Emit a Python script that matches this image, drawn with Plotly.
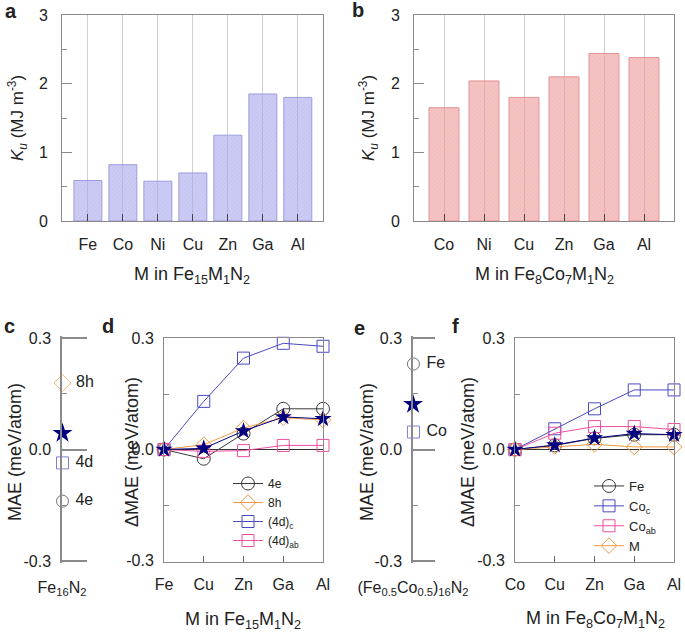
import plotly.graph_objects as go

# ---------------- data ----------------
a_cats = ["Fe", "Co", "Ni", "Cu", "Zn", "Ga", "Al"]
a_ku = [0.59, 0.82, 0.58, 0.70, 1.25, 1.85, 1.80]

b_cats = ["Co", "Ni", "Cu", "Zn", "Ga", "Al"]
b_ku = [1.65, 2.04, 1.80, 2.10, 2.44, 2.38]

c_labels = ["8h", "4d", "4e"]
c_mae = [0.179, -0.036, -0.139]
c_total = 0.044

d_cats = ["Fe", "Cu", "Zn", "Ga", "Al"]
d_4e = [0.0, -0.025, 0.043, 0.110, 0.110]
d_8h = [0.0, 0.013, 0.058, 0.086, 0.080]
d_4dc = [0.0, 0.130, 0.247, 0.287, 0.279]
d_4dab = [0.0, -0.005, -0.003, 0.011, 0.011]
d_total = [0.0, 0.003, 0.050, 0.088, 0.083]

e_labels = ["Fe", "Co"]
e_mae = [0.230, 0.047]
e_total = 0.122

f_cats = ["Co", "Cu", "Zn", "Ga", "Al"]
f_fe = [0.0, 0.011, 0.030, 0.040, 0.040]
f_coc = [0.0, 0.056, 0.110, 0.161, 0.161]
f_coab = [0.0, 0.044, 0.062, 0.062, 0.054]
f_m = [0.0, 0.008, 0.014, 0.007, 0.007]
f_total = [0.0, 0.012, 0.031, 0.043, 0.040]

# ---------------- styling ----------------
W, H = 685, 632
FONT = "Liberation Sans, Arial, sans-serif"
TXT = "#222222"
AX = "#8a8a8a"
BLACK = "#3a3a3a"
ORANGE = "#f29a45"
BLUE = "#4a4ac4"
PINK = "#f0509e"
NAVY = "#000080"
NBSP = "\u00a0"


def px(x):
    return x / W


def py(y):
    return 1 - y / H


fig = go.Figure()

# ---- panel a bars ----
fig.add_trace(go.Bar(
    x=a_cats, y=a_ku, xaxis="x", yaxis="y", width=0.8, showlegend=False,
    marker=dict(color="rgba(168,168,236,0.6)",
                line=dict(color="rgba(150,150,220,0.9)", width=1),
                pattern=dict(shape="/", fillmode="overlay", size=3, solidity=0.25,
                             fgcolor="rgba(120,120,210,0.3)")),
))
# ---- panel b bars ----
fig.add_trace(go.Bar(
    x=b_cats, y=b_ku, xaxis="x2", yaxis="y2", width=0.75, showlegend=False,
    marker=dict(color="rgba(238,155,155,0.6)",
                line=dict(color="rgba(225,140,140,0.9)", width=1),
                pattern=dict(shape="/", fillmode="overlay", size=3, solidity=0.25,
                             fgcolor="rgba(210,110,110,0.3)")),
))

# ---- panel c ----
fig.add_trace(go.Scatter(
    x=[0.02] * len(c_labels), y=c_mae, xaxis="x3", yaxis="y3", mode="markers+text",
    text=[NBSP + t for t in c_labels], textposition="middle right", cliponaxis=False,
    showlegend=False, textfont=dict(size=16, color=TXT),
    marker=dict(symbol=["diamond-open", "square-open", "circle-open"],
                color=[ORANGE, BLUE, BLACK], size=[13, 12, 12], line=dict(width=1)),
))
fig.add_trace(go.Scatter(
    x=[0.02], y=[c_total], xaxis="x3", yaxis="y3", mode="markers", cliponaxis=False,
    showlegend=False, marker=dict(symbol="star", color=NAVY, size=15),
))

# ---- panel d ----
d_series = [
    ("4e", d_4e, "circle-open", BLACK, 13),
    ("8h", d_8h, "diamond-open", ORANGE, 12),
    ("(4d)<sub>c</sub>", d_4dc, "square-open", BLUE, 12),
    ("(4d)<sub>ab</sub>", d_4dab, "square-open", PINK, 12),
]
for name, vals, sym, col, sz in d_series:
    fig.add_trace(go.Scatter(
        x=d_cats, y=vals, name=name, xaxis="x4", yaxis="y4", mode="lines+markers",
        cliponaxis=False, legend="legend",
        line=dict(color=col, width=1),
        marker=dict(symbol=sym, color=col, size=sz, line=dict(width=1)),
    ))
fig.add_trace(go.Scatter(
    x=d_cats, y=d_total, xaxis="x4", yaxis="y4", mode="lines+markers", cliponaxis=False,
    showlegend=False, line=dict(color=NAVY, width=1),
    marker=dict(symbol="star", color=NAVY, size=13),
))

# ---- panel e ----
fig.add_trace(go.Scatter(
    x=[0.02] * len(e_labels), y=e_mae, xaxis="x5", yaxis="y5", mode="markers+text",
    text=[NBSP + t for t in e_labels], textposition="middle right", cliponaxis=False,
    showlegend=False, textfont=dict(size=16, color=TXT),
    marker=dict(symbol=["circle-open", "square-open"], color=[BLACK, BLUE],
                size=[12, 12], line=dict(width=1)),
))
fig.add_trace(go.Scatter(
    x=[0.0], y=[e_total], xaxis="x5", yaxis="y5", mode="markers", cliponaxis=False,
    showlegend=False, marker=dict(symbol="star", color=NAVY, size=15),
))

# ---- panel f ----
f_series = [
    ("Fe", f_fe, "circle-open", BLACK, 13),
    ("Co<sub>c</sub>", f_coc, "square-open", BLUE, 12),
    ("Co<sub>ab</sub>", f_coab, "square-open", PINK, 12),
    ("M", f_m, "diamond-open", ORANGE, 12),
]
for name, vals, sym, col, sz in f_series:
    fig.add_trace(go.Scatter(
        x=f_cats, y=vals, name=name, xaxis="x6", yaxis="y6", mode="lines+markers",
        cliponaxis=False, legend="legend2",
        line=dict(color=col, width=1),
        marker=dict(symbol=sym, color=col, size=sz, line=dict(width=1)),
    ))
fig.add_trace(go.Scatter(
    x=f_cats, y=f_total, xaxis="x6", yaxis="y6", mode="lines+markers", cliponaxis=False,
    showlegend=False, line=dict(color=NAVY, width=1),
    marker=dict(symbol="star", color=NAVY, size=13),
))

# ---------------- axes ----------------
tickfont = dict(family=FONT, size=16, color=TXT)
top_dom = [py(221), py(15)]
bot_dom = [py(561.5), py(337.5)]
mae_range = [-0.3027, 0.3027]
# single-point panels: a slightly wider range so the +-0.3 grid lines are kept
single_range = [-0.305, 0.305]
single_dom = [py(562.9), py(336.1)]
mae_ticks = dict(tickvals=[-0.3, 0.0, 0.3], ticktext=["-0.3", "0.0", "0.3"])
minor_mae = dict(tickvals=[-0.15, 0.15], ticks="inside", ticklen=5, tickcolor=AX)

bar_x = dict(showgrid=True, gridcolor="#cfcfcf", gridwidth=1, showline=True, mirror=True,
             linecolor=AX, linewidth=1, ticks="inside", ticklen=7, tickcolor="#444",
             tickfont=tickfont, ticklabelstandoff=9, zeroline=False, automargin=False)
bar_y = dict(range=[0, 3], tickvals=[0, 1, 2, 3], showgrid=False, showline=True, mirror=True,
             linecolor=AX, linewidth=1, ticks="inside", ticklen=10, tickcolor=AX,
             minor=dict(dtick=0.5, ticks="inside", ticklen=5, tickcolor=AX, showgrid=False),
             tickfont=tickfont, ticklabelstandoff=10, zeroline=False, automargin=False)

line_x = dict(showgrid=False, showline=True, mirror=True, linecolor=AX, linewidth=1,
              ticks="inside", ticklen=6, tickcolor="#666", tickfont=tickfont,
              ticklabelstandoff=8, zeroline=False, automargin=False)
line_y = dict(range=mae_range, **mae_ticks, showgrid=False, showline=True, mirror=True,
              linecolor=AX, linewidth=1, ticks="", minor=minor_mae, tickfont=tickfont,
              ticklabelstandoff=6, zeroline=True, zerolinecolor="#333", zerolinewidth=1,
              automargin=False)

single_y = dict(range=single_range, **mae_ticks, showgrid=True, gridcolor=AX, gridwidth=1.5,
                showline=True, linecolor=AX, linewidth=1.5, ticks="", minor=minor_mae,
                tickfont=tickfont, ticklabelstandoff=6, zeroline=False, automargin=False)
single_x = dict(range=[0, 1], showgrid=False, showline=False, zeroline=False, ticks="",
                tickfont=dict(family=FONT, size=16, color=TXT), ticklabelstandoff=13,
                automargin=False)

fig.update_layout(
    template="none",
    xaxis=dict(domain=[px(62), px(323)], anchor="y", range=[-0.74, 6.72], **bar_x),
    yaxis=dict(domain=top_dom, anchor="x", **bar_y),
    xaxis2=dict(domain=[px(414), px(674)], anchor="y2", range=[-0.75, 5.75], **bar_x),
    yaxis2=dict(domain=top_dom, anchor="x2", **bar_y),
    xaxis3=dict(domain=[px(62), px(87)], anchor="y3", tickvals=[0.0],
                ticktext=["Fe<sub>16</sub>N<sub>2</sub>"], **single_x),
    yaxis3=dict(domain=single_dom, anchor="x3", **single_y),
    xaxis4=dict(domain=[px(164), px(323)], anchor="y4", range=[0, 4.0], **line_x),
    yaxis4=dict(domain=bot_dom, anchor="x4", **line_y),
    xaxis5=dict(domain=[px(413), px(435)], anchor="y5", tickvals=[0.0],
                ticktext=["(Fe<sub>0.5</sub>Co<sub>0.5</sub>)<sub>16</sub>N<sub>2</sub>"],
                **single_x),
    yaxis5=dict(domain=single_dom, anchor="x5", **single_y),
    xaxis6=dict(domain=[px(515), px(674)], anchor="y6", range=[0, 4.0], **line_x),
    yaxis6=dict(domain=bot_dom, anchor="x6", **line_y),
)

fig.update_layout(
    legend=dict(x=px(228), y=py(469), xanchor="left", yanchor="top",
                bgcolor="rgba(0,0,0,0)", borderwidth=0, itemwidth=30,
                font=dict(family=FONT, size=12, color=TXT), tracegroupgap=0),
    legend2=dict(x=px(589), y=py(471), xanchor="left", yanchor="top",
                 bgcolor="rgba(0,0,0,0)", borderwidth=0, itemwidth=30,
                 font=dict(family=FONT, size=13, color=TXT), tracegroupgap=0),
)

# ---------------- titles & panel letters ----------------
annots = []


def ann(x, y, text, size=18, angle=0, bold=False):
    annots.append(dict(x=px(x), y=py(y), xref="paper", yref="paper", showarrow=False,
                       text=("<b>%s</b>" % text) if bold else text, textangle=angle,
                       xanchor="center", yanchor="middle",
                       font=dict(family=FONT, size=size, color=TXT)))


ann(17, 118, "<i>K<sub>u</sub></i> (MJ m<sup>-3</sup>)", 17, -90)
ann(368, 118, "<i>K<sub>u</sub></i> (MJ m<sup>-3</sup>)", 17, -90)
ann(192, 275, "M in Fe<sub>15</sub>M<sub>1</sub>N<sub>2</sub>", 18)
ann(544, 275, "M in Fe<sub>8</sub>Co<sub>7</sub>M<sub>1</sub>N<sub>2</sub>", 18)
ann(15, 452, "MAE (meV/atom)", 18, -90)
ann(132, 452, "ΔMAE (meV/atom)", 18, -90)
ann(367, 452, "MAE (meV/atom)", 18, -90)
ann(468, 452, "ΔMAE (meV/atom)", 18, -90)
ann(243, 620, "M in Fe<sub>15</sub>M<sub>1</sub>N<sub>2</sub>", 18)
ann(595, 619, "M in Fe<sub>8</sub>Co<sub>7</sub>M<sub>1</sub>N<sub>2</sub>", 18)
for lx, ly, lt in [(11, 11, "a"), (358, 10, "b"), (9, 326, "c"), (108, 326, "d"),
                   (359, 328, "e"), (455, 326, "f")]:
    ann(lx, ly, lt, 20, 0, True)

fig.update_layout(
    annotations=annots,
    width=W, height=H, margin=dict(l=0, r=0, t=0, b=0, autoexpand=False),
    paper_bgcolor="white", plot_bgcolor="white",
    font=dict(family=FONT, color=TXT),
    bargap=0.2,
)

# remove the default 8px page margin so the figure fills the window exactly
fig.write_html("out.html", config={"displayModeBar": False},
               post_script="document.body.style.margin='0';document.body.style.overflow='hidden';")
